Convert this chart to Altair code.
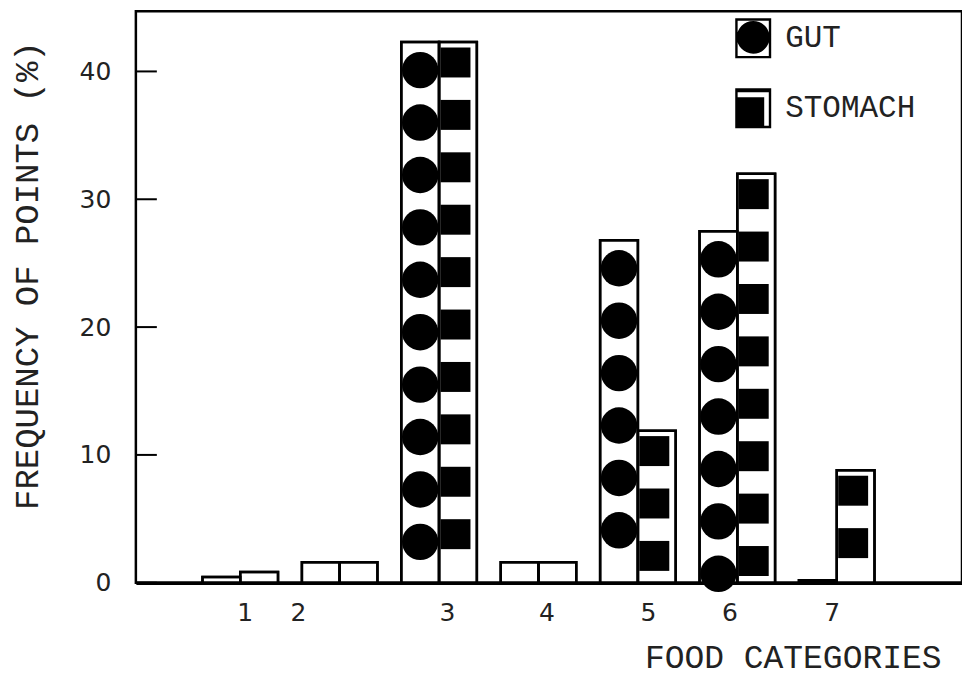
import altair as alt
import pandas as pd

# ---- data ----
categories = [1, 2, 3, 4, 5, 6, 7]
gut = [0.45, 1.6, 42.3, 1.6, 26.8, 27.5, 0.2]
stomach = [0.85, 1.6, 42.3, 1.6, 11.9, 32.0, 8.8]
series_names = ["GUT", "STOMACH"]
y_ticks = [0, 10, 20, 30, 40]
# where the typed category numbers sit on the original x scale
x_label_pos = [1.045, 1.58, 3.08, 4.08, 5.10, 5.92, 6.95]

FONT_TXT = "Liberation Mono"
FONT_NUM = "DejaVu Sans"

bars = pd.DataFrame(
    [{"cat": c, "series": "GUT", "value": v} for c, v in zip(categories, gut)]
    + [{"cat": c, "series": "STOMACH", "value": v} for c, v in zip(categories, stomach)]
)

# decorative fill pattern (circles for gut, squares for stomach), stacked down each bar
pat_rows = []
for c, v in zip(categories, gut):
    lvl = v - 2.2
    while lvl >= 0.6:
        pat_rows.append({"cat": c, "series": "GUT", "level": lvl})
        lvl -= 4.1
for c, v in zip(categories, stomach):
    lvl = v - 1.6
    while lvl >= 0.6:
        pat_rows.append({"cat": c, "series": "STOMACH", "level": lvl})
        lvl -= 4.1
pattern = pd.DataFrame(pat_rows)

xscale = alt.Scale(domain=[-0.05, 8.26], nice=False, zero=False)
yscale = alt.Scale(domain=[0, 44.7], nice=False)

W = 0.38  # bar width in category units

bar_base = (
    alt.Chart(bars)
    .transform_calculate(
        x0=f"datum.series == 'GUT' ? datum.cat - {W} : datum.cat",
        x1=f"datum.series == 'GUT' ? datum.cat : datum.cat + {W}",
    )
)

bar_layer = bar_base.mark_bar(fill="white", stroke="black", strokeWidth=2.5).encode(
    x=alt.X(
        "x0:Q",
        scale=xscale,
        axis=alt.Axis(
            values=x_label_pos,
            labelExpr="format(round(datum.value), 'd')",
            ticks=False,
            grid=False,
            domain=True,
            domainColor="black",
            domainWidth=3.5,
            labelFont=FONT_NUM,
            labelFontSize=25,
            labelColor="#222",
            labelPadding=18,
            title="FOOD CATEGORIES",
            titleFont=FONT_TXT,
            titleFontSize=33,
            titleFontWeight="normal",
            titleColor="#222",
            titleAnchor="end",
            titleAlign="right",
            titleBaseline="alphabetic",
            titleX=806,
            titleY=85,
        ),
    ),
    x2="x1:Q",
    y=alt.Y(
        "value:Q",
        scale=yscale,
        axis=alt.Axis(
            values=y_ticks,
            ticks=False,
            grid=False,
            domain=False,
            labelFont=FONT_NUM,
            labelFontSize=25,
            labelColor="#222",
            labelPadding=25,
            title="FREQUENCY OF POINTS (%)",
            titleFont=FONT_TXT,
            titleFontSize=34,
            titleFontWeight="normal",
            titleColor="#222",
            titleAngle=-90,
            titleAlign="center",
            titleBaseline="alphabetic",
            titleX=-98,
            titleY=264,
        ),
    ),
    y2=alt.datum(0),
)

circles = (
    alt.Chart(pattern)
    .transform_filter("datum.series == 'GUT'")
    .transform_calculate(xc=f"datum.cat - {W / 2}")
    .mark_point(shape="circle", filled=True, color="black", opacity=1, size=1330)
    .encode(x=alt.X("xc:Q", scale=xscale), y=alt.Y("level:Q", scale=yscale))
)

squares = (
    alt.Chart(pattern)
    .transform_filter("datum.series == 'STOMACH'")
    .transform_calculate(xc="datum.cat + 0.165")
    .mark_point(shape="square", filled=True, color="black", opacity=1, size=900)
    .encode(x=alt.X("xc:Q", scale=xscale), y=alt.Y("level:Q", scale=yscale))
)

# bar outlines redrawn over the pattern
outline_layer = bar_base.mark_bar(fill=None, stroke="black", strokeWidth=2.5).encode(
    x=alt.X("x0:Q", scale=xscale),
    x2="x1:Q",
    y=alt.Y("value:Q", scale=yscale),
    y2=alt.datum(0),
)

ticks = (
    alt.Chart(pd.DataFrame({"t": y_ticks}))
    .mark_rule(color="black", strokeWidth=2)
    .encode(x=alt.value(0), x2=alt.value(21), y=alt.Y("t:Q", scale=yscale))
)

gut_sym = (
    "M-0.9,-1H0.9V1H-0.9Z "
    "M-0.78,-0.88V0.88H0.78V-0.88Z "
    "M-0.82,-0.05A0.82,0.82 0 1,1 0.82,-0.05A0.82,0.82 0 1,1 -0.82,-0.05Z"
)
sto_sym = (
    "M-0.9,-1H0.9V1H-0.9Z "
    "M-0.78,-0.8V0.88H0.78V-0.8Z "
    "M-0.9,-0.55H0.55V1H-0.9Z"
)

legend_layer = (
    alt.Chart(pd.DataFrame({"series": series_names}))
    .mark_point(filled=True, color="black", opacity=0)
    .encode(
        shape=alt.Shape(
            "series:N",
            scale=alt.Scale(domain=series_names, range=[gut_sym, sto_sym]),
            legend=alt.Legend(
                title=None,
                orient="none",
                legendX=598,
                legendY=7,
                padding=0,
                symbolSize=1600,
                symbolFillColor="black",
                symbolStrokeColor="black",
                symbolStrokeWidth=0,
                symbolOpacity=1,
                rowPadding=30,
                labelOffset=12,
                labelFont=FONT_TXT,
                labelFontSize=31,
                labelColor="#222",
            ),
        )
    )
)

chart = (
    alt.layer(bar_layer, circles, squares, outline_layer, ticks, legend_layer)
    .properties(
        width=827,
        height=572,
        padding={"left": 128, "top": 3, "right": 0, "bottom": 95},
        autosize="none",
        background="white",
    )
    .configure_view(stroke="black", strokeWidth=2.5)
)

chart.save("out.html", embed_options={"renderer": "svg", "actions": False})
